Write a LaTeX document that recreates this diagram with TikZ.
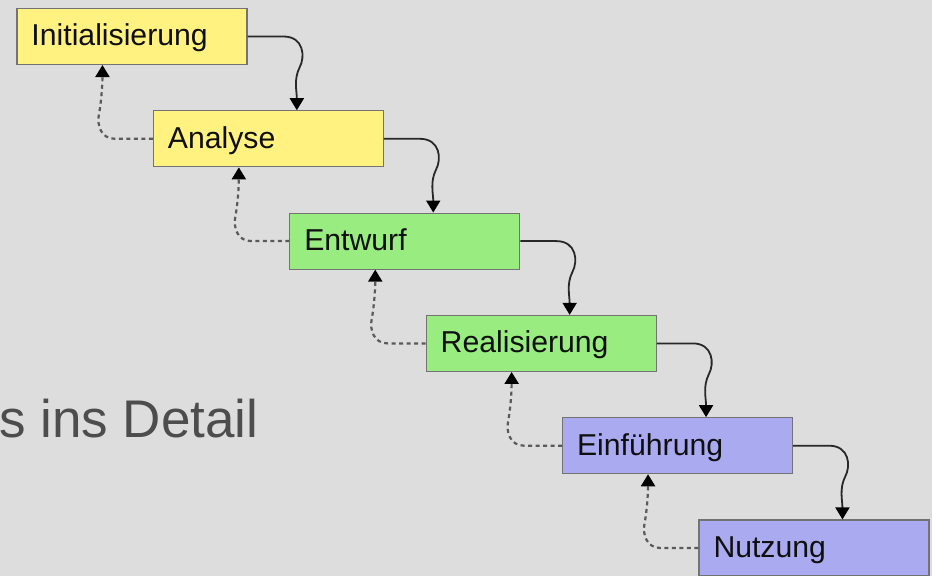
\documentclass[tikz,border=0pt]{standalone}
\usepackage{fontspec}
\setmainfont{Liberation Sans}
\usetikzlibrary{arrows.meta,calc}
\definecolor{bg}{RGB}{221,221,221}
\definecolor{yel}{RGB}{255,242,128}
\definecolor{grn}{RGB}{152,236,128}
\definecolor{blu}{RGB}{170,170,240}
\definecolor{boxborder}{RGB}{115,115,115}
\definecolor{boxtext}{RGB}{15,15,15}
\definecolor{fwdcol}{RGB}{40,40,40}
\definecolor{backcol}{RGB}{90,90,90}
\definecolor{titlecol}{RGB}{77,77,77}
\begin{document}
\begin{tikzpicture}[x=1bp,y=-1bp,
  box/.style={draw=boxborder,line width=1.1bp,rectangle,minimum width=230bp,minimum height=56bp,
    text width=201bp,inner xsep=14.5bp,inner ysep=0pt,text height=21bp,text depth=2bp,align=left,
    font=\fontsize{30.2bp}{36bp}\selectfont,text=boxtext},
  fwd/.style={draw=fwdcol,line width=1.8bp,-{Triangle[length=12bp,width=14bp,color=black]}},
  back/.style={draw=backcol,line width=2.2bp,dash pattern=on 4bp off 3.5bp,-{Triangle[length=12bp,width=14bp,color=black]}}]
\fill[bg] (0,0) rectangle (932,576);
\useasboundingbox (0,0) rectangle (932,576);
\node[anchor=base west,inner sep=0pt,text=titlecol,font=\fontsize{53bp}{60bp}\selectfont] (title) at (-1,437) {s ins Detail};
\node[box,fill=yel] (n1) at (132,36.5) {Initialisierung};
\node[box,fill=yel] (n2) at (268.4,138.8) {Analyse};
\node[box,fill=grn] (n3) at (404.8,241.1) {Entwurf};
\node[box,fill=grn] (n4) at (541.2,343.4) {Realisierung};
\node[box,fill=blu] (n5) at (677.6,445.7) {Einführung};
\node[box,fill=blu] (n6) at (814,548) {Nutzung};
\foreach \a/\b in {n1/n2,n2/n3,n3/n4,n4/n5,n5/n6}{
  \draw[fwd] (\a.east) -- ($(\a.east)+(36,0)$)
    .. controls ($(\a.east)+(56,0)$) and ($(\a.east)+(58,20)$) .. ($(\a.east)+(52,31)$)
    .. controls ($(\a.east)+(46,43)$) and ($(\b.north west)+(144,-19)$) .. ($(\b.north west)+(144,0)$);
  \draw[back] (\b.west) -- ($(\b.west)+(-38,0)$)
    .. controls ($(\b.west)+(-52,0)$) and ($(\b.west)+(-56,-14)$) .. ($(\b.west)+(-54,-24)$)
    .. controls ($(\b.west)+(-52,-34)$) and ($(\a.south west)+(86,22)$) .. ($(\a.south west)+(86,0)$);
}
\end{tikzpicture}
\end{document}
